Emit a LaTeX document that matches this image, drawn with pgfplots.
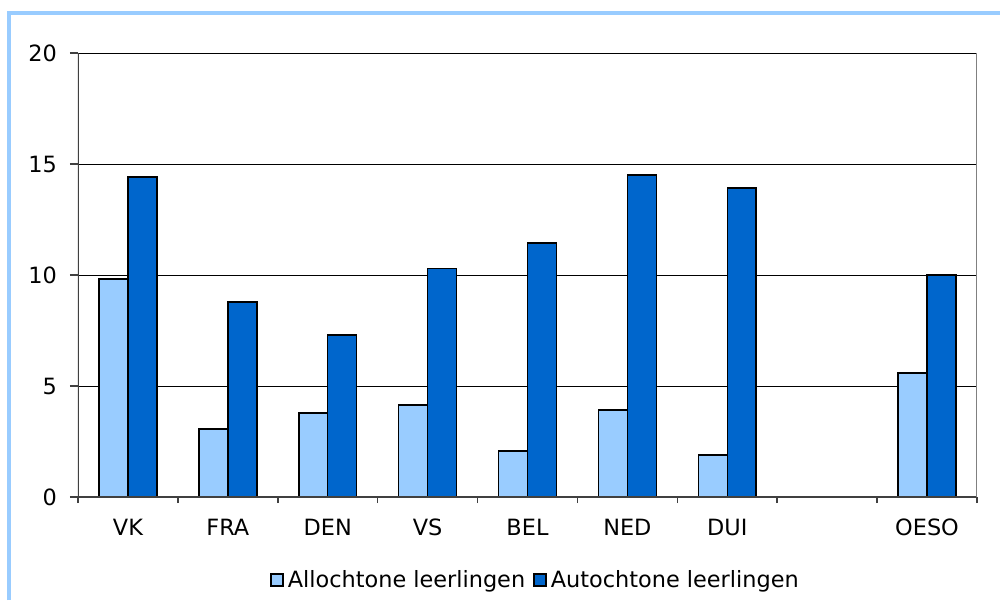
\documentclass[border=0pt]{standalone}
\usepackage{pgfplots}
\pgfplotsset{compat=1.18}
\usepackage{fontspec}
\setmainfont{DejaVu Sans}
\definecolor{lightb}{HTML}{99CCFF}
\definecolor{darkb}{HTML}{0066CC}
\begin{document}
\begin{tikzpicture}
\useasboundingbox (-39pt,-51.5pt) rectangle (461pt,248.5pt);
\begin{axis}[
  at={(0,0)}, anchor=south west,
  scale only axis, width=449.5pt, height=222pt,
  xmin=-0.5, xmax=8.5, ymin=0, ymax=20,
  ytick={0,5,10,15,20},
  ymajorgrids, grid style={black, line width=0.5pt},
  xtick={0,...,8}, xticklabels={VK,FRA,DEN,VS,BEL,NED,DUI,,OESO},
  minor xtick={-0.5,0.5,...,8.5},
  major x tick style={draw=none},
  tick pos=left,
  tick align=outside,
  major tick length=4pt, minor tick length=3pt,
  tick style={black!75, line width=0.8pt},
  x tick label style={yshift=-3.5pt},
  y tick label style={xshift=-3pt},
  /pgf/number format/assume math mode=true,
  tick label style={font=\fontsize{11.2}{13}\selectfont},
  axis line style={draw=none},
  ybar=0pt, bar width=0.29,
  legend style={draw=none, at={(0.51,-0.187)}, anchor=center, legend columns=2,
    font=\fontsize{11.2}{13}\selectfont,
    /tikz/every even column/.append style={column sep=2pt}},
  legend image code/.code={\draw[#1, line width=0.8pt] (0pt,-3pt) rectangle (6pt,3pt);},
]
\addplot[fill=lightb, draw=black, line width=0.75pt] coordinates {(0,9.82) (1,3.06) (2,3.78) (3,4.14) (4,2.07) (5,3.92) (6,1.89) (8,5.59)};
\addplot[fill=darkb, draw=black, line width=0.75pt] coordinates {(0,14.41) (1,8.78) (2,7.30) (3,10.3) (4,11.44) (5,14.5) (6,13.92) (8,10.0)};
\legend{Allochtone leerlingen, Autochtone leerlingen}
\draw[black!75, line width=1pt] (rel axis cs:0,0) -- (rel axis cs:0,1);
\draw[black!75, line width=1pt] (rel axis cs:0,0) -- (rel axis cs:1,0);
\draw[gray, line width=1pt] (rel axis cs:1,0) -- (rel axis cs:1,1);
\end{axis}
\draw[lightb, line width=2pt] (-34.5pt,-51.5pt) -- (-34.5pt,242pt) -- (461pt,242pt);
\end{tikzpicture}
\end{document}
